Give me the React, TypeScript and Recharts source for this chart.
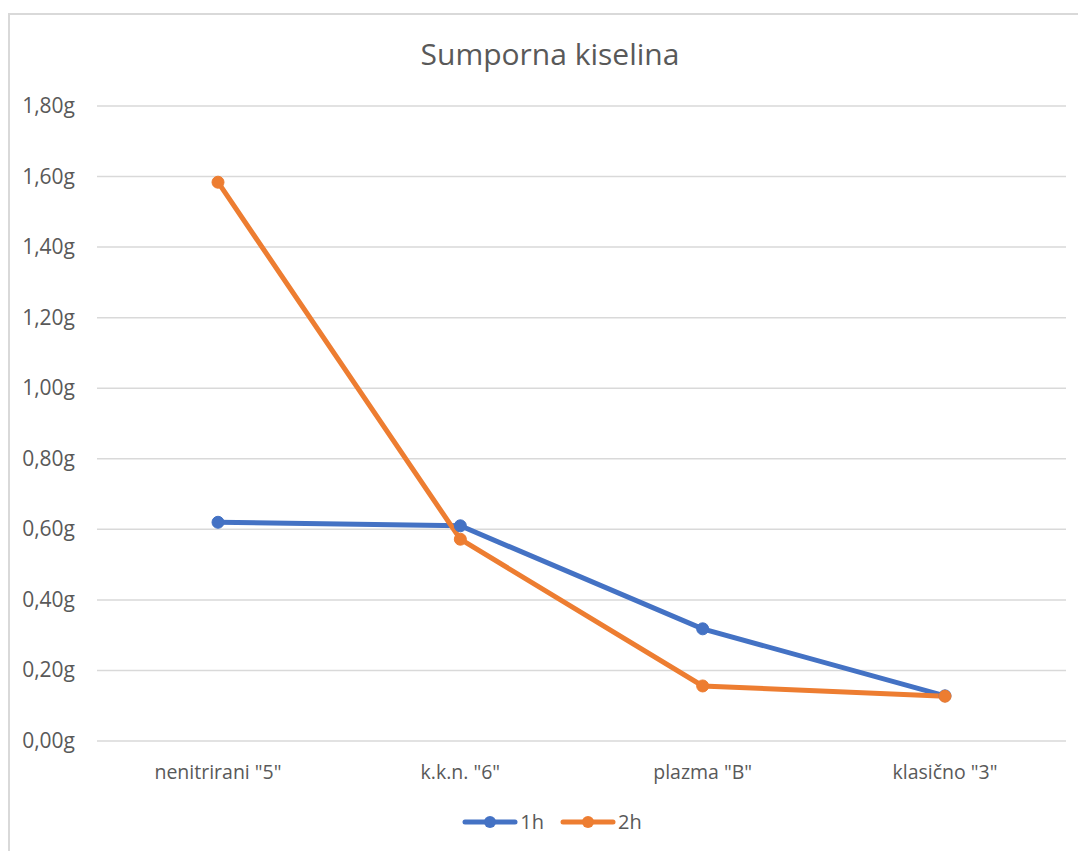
import React from "react";
import { LineChart, Line, XAxis, YAxis, CartesianGrid } from "recharts";

const categories = ['nenitrirani "5"', 'k.k.n. "6"', 'plazma "B"', 'klasično "3"'];
const series1h = [0.62, 0.61, 0.318, 0.128];
const series2h = [1.584, 0.572, 0.156, 0.127];
const yTicks = [0, 0.2, 0.4, 0.6, 0.8, 1.0, 1.2, 1.4, 1.6, 1.8];

const data = categories.map((c, i) => ({ name: c, h1: series1h[i], h2: series2h[i] }));

const FONT = "'Open Sans', 'Noto Sans', sans-serif";
const TXT = "#595959";
const BLUE = "#4472C4";
const ORANGE = "#ED7D31";

const fmt = (v: number) => v.toFixed(2).replace(".", ",") + "g";

const YTick = (props: any) => {
  const { x, y, payload } = props;
  return (
    <text x={x - 14} y={y} dy={7} textAnchor="end" fill={TXT} fontSize={21} fontFamily={FONT}>
      {fmt(payload.value)}
    </text>
  );
};

const XTick = (props: any) => {
  const { x, y, payload } = props;
  return (
    <text x={x} y={y} dy={30} textAnchor="middle" fill={TXT} fontSize={19.5} fontFamily={FONT}>
      {payload.value}
    </text>
  );
};

const LegendItem = ({ color, label }: { color: string; label: string }) => (
  <div style={{ display: "flex", alignItems: "center", marginRight: 16 }}>
    <svg width={56} height={14}>
      <line x1={3} y1={7} x2={53} y2={7} stroke={color} strokeWidth={5} strokeLinecap="round" />
      <circle cx={28} cy={7} r={6} fill={color} />
    </svg>
    <span style={{ fontFamily: FONT, fontSize: 20, color: TXT, marginLeft: 2 }}>{label}</span>
  </div>
);

export default function App() {
  return (
    <div style={{ position: "absolute", left: 0, top: 0, width: 1078, height: 851, background: "#fff", overflow: "hidden" }}>
      <div
        style={{
          position: "absolute",
          left: 8,
          top: 13,
          width: 1100,
          height: 900,
          border: "2px solid #d9d9d9",
          boxSizing: "border-box",
        }}
      />
      <div
        style={{
          position: "absolute",
          left: 0,
          top: 33,
          width: 1100,
          textAlign: "center",
          fontFamily: FONT,
          fontSize: 30,
          color: TXT,
        }}
      >
        Sumporna kiselina
      </div>
      <div style={{ position: "absolute", left: 0, top: 0 }}>
        <LineChart width={1078} height={851} data={data} margin={{ top: 106, right: 12, bottom: 80, left: 37 }}>
          <CartesianGrid vertical={false} stroke="#d9d9d9" strokeWidth={1.5} />
          <XAxis
            dataKey="name"
            axisLine={false}
            tickLine={false}
            tick={<XTick />}
            height={30}
            interval={0}
            padding={{ left: 121, right: 121 }}
          />
          <YAxis
            domain={[0, 1.8]}
            ticks={yTicks}
            axisLine={false}
            tickLine={false}
            tick={<YTick />}
            width={60}
            interval={0}
          />
          <Line
            dataKey="h1"
            stroke={BLUE}
            strokeWidth={5}
            dot={{ r: 6, fill: BLUE, stroke: BLUE, strokeWidth: 1 }}
            isAnimationActive={false}
          />
          <Line
            dataKey="h2"
            stroke={ORANGE}
            strokeWidth={5}
            dot={{ r: 6, fill: ORANGE, stroke: ORANGE, strokeWidth: 1 }}
            isAnimationActive={false}
          />
        </LineChart>
      </div>
      <div style={{ position: "absolute", left: 0, top: 808, width: 1120, display: "flex", justifyContent: "center" }}>
        <LegendItem color={BLUE} label="1h" />
        <LegendItem color={ORANGE} label="2h" />
      </div>
    </div>
  );
}
